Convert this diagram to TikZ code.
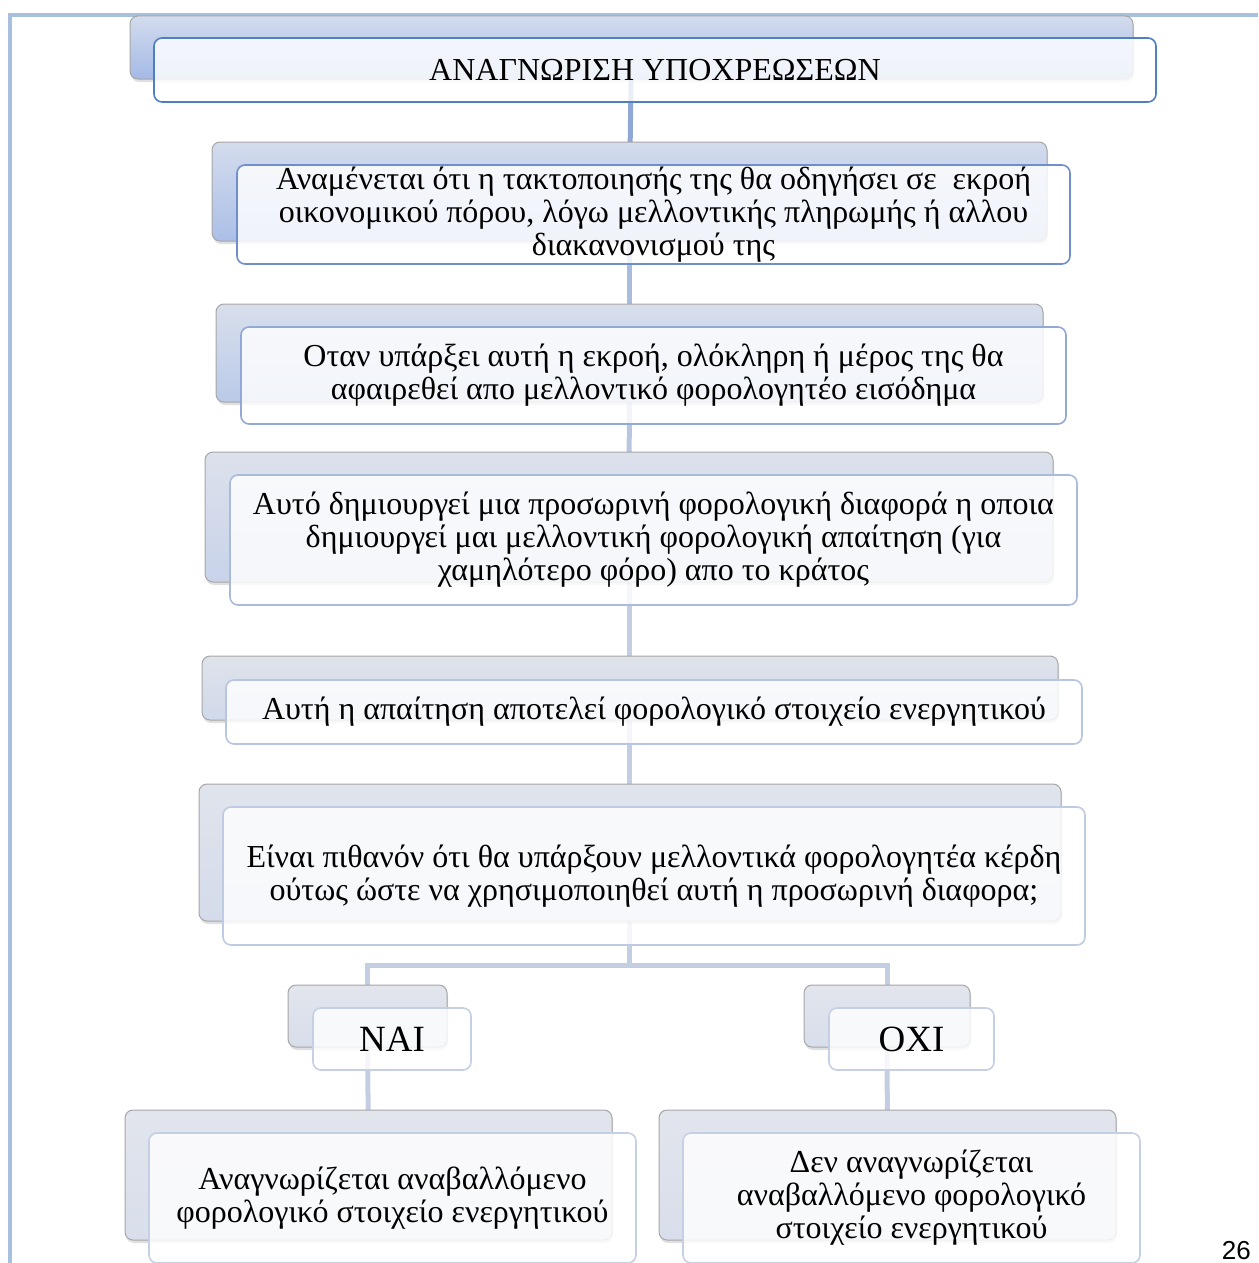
\documentclass[tikz,border=0pt]{standalone}
\usepackage{fontspec}
\setmainfont{Liberation Serif}
\newfontfamily\numfont{Liberation Sans}
\usetikzlibrary{shadows,backgrounds}
\definecolor{framec}{HTML}{A7C0DD}
\definecolor{fa}{HTML}{4F7FC0}
\definecolor{fb}{HTML}{6E8FCC}
\definecolor{fc}{HTML}{92A9D6}
\definecolor{fd}{HTML}{A9BADC}
\definecolor{fe}{HTML}{B7C5E1}
\definecolor{ff}{HTML}{BFCBE3}
\definecolor{fg}{HTML}{C5D0E5}
\definecolor{la}{HTML}{8FA8D6}
\definecolor{lb}{HTML}{A9BCDD}
\definecolor{lc}{HTML}{B8C6E0}
\definecolor{ld}{HTML}{C3CEE2}
\definecolor{bta}{HTML}{D3DCEE}\definecolor{bba}{HTML}{A3B9E6}
\definecolor{btb}{HTML}{D4DCED}\definecolor{bbb}{HTML}{ABBFE7}
\definecolor{btc}{HTML}{D8DFEC}\definecolor{bbc}{HTML}{BACAE8}
\definecolor{btd}{HTML}{DCE1EB}\definecolor{bbd}{HTML}{C8D3EA}
\definecolor{bte}{HTML}{DFE3EB}\definecolor{bbe}{HTML}{D0D9EA}
\definecolor{btf}{HTML}{E0E4EC}\definecolor{bbf}{HTML}{D4DBEA}
\definecolor{btg}{HTML}{E2E5EC}\definecolor{bbg}{HTML}{D8DEEB}
\begin{document}
\begin{tikzpicture}[x=1pt,y=-1pt,
  backbox/.style={rounded corners=8pt, draw=black!35, line width=1pt,
    drop shadow={opacity=0.25, shadow xshift=1pt, shadow yshift=-3pt}},
  frontbox/.style={rounded corners=8pt, fill=white, fill opacity=0.82, text opacity=1,
    line width=1.6pt, align=center, inner sep=0pt,
    font=\fontsize{32}{33}\selectfont},
  bigtxt/.style={font=\fontsize{37}{40}\selectfont},
  conn/.style={line width=5pt},
  frame/.style={draw=framec, line width=4pt}]
\useasboundingbox (0,0) rectangle (1258,1263);
\clip (0,0) rectangle (1258,1263);
\draw[frame] (8,15) -- (1258,15);
\draw[frame] (10,13) -- (10,1263);

\node[backbox, top color=bta, bottom color=bba, minimum width=1003, minimum height=63] (b1) at (631.5,47.5) {};
\node[frontbox, draw=fa, minimum width=1002, minimum height=64] (f1) at (655,70) {ΑΝΑΓΝΩΡΙΣΗ ΥΠΟΧΡΕΩΣΕΩΝ};

\node[backbox, top color=btb, bottom color=bbb, minimum width=835, minimum height=99] (b2) at (629.5,191.5) {};
\node[frontbox, draw=fb, minimum width=833, minimum height=99] (f2) at (653.5,214.5) {Αναμένεται ότι η τακτοποιησής της θα οδηγήσει σε \ εκροή\\οικονομικού πόρου, λόγω μελλοντικής πληρωμής ή αλλου\\διακανονισμού της};

\node[backbox, top color=btc, bottom color=bbc, minimum width=827, minimum height=98] (b3) at (629.5,353) {};
\node[frontbox, draw=fc, minimum width=825, minimum height=97] (f3) at (653.5,375.5) {Οταν υπάρξει αυτή η εκροή, ολόκληρη ή μέρος της θα\\αφαιρεθεί απο μελλοντικό φορολογητέο εισόδημα};

\node[backbox, top color=btd, bottom color=bbd, minimum width=848, minimum height=130] (b4) at (629,517) {};
\node[frontbox, draw=fd, minimum width=847, minimum height=130] (f4) at (653.5,540) {Αυτό δημιουργεί μια προσωρινή φορολογική διαφορά η οποια\\δημιουργεί μαι μελλοντική φορολογική απαίτηση (για\\χαμηλότερο φόρο) απο το κράτος};

\node[backbox, top color=bte, bottom color=bbe, minimum width=856, minimum height=64] (b5) at (630,688) {};
\node[frontbox, draw=fe, minimum width=856, minimum height=64] (f5) at (654,712) {Αυτή η απαίτηση αποτελεί φορολογικό στοιχείο ενεργητικού};

\node[backbox, top color=btf, bottom color=bbf, minimum width=862, minimum height=137] (b6) at (630,852.5) {};
\node[frontbox, draw=ff, minimum width=862, minimum height=138] (f6) at (654,876) {Είναι πιθανόν ότι θα υπάρξουν μελλοντικά φορολογητέα κέρδη\\ούτως ώστε να χρησιμοποιηθεί αυτή η προσωρινή διαφορα;};

\node[backbox, top color=btg, bottom color=bbg, minimum width=159, minimum height=62] (bnai) at (367.5,1016) {};
\node[frontbox, bigtxt, draw=fg, minimum width=158, minimum height=62] (fnai) at (392,1039) {ΝΑΙ};

\node[backbox, top color=btg, bottom color=bbg, minimum width=166, minimum height=62] (boxi) at (887,1016) {};
\node[frontbox, bigtxt, draw=fg, minimum width=165, minimum height=62] (foxi) at (911.5,1039) {ΟΧΙ};

\node[backbox, top color=btg, bottom color=bbg, minimum width=487, minimum height=130] (bl) at (368.5,1175) {};
\node[frontbox, draw=fg, minimum width=487, minimum height=130] (fl) at (392.5,1198) {Αναγνωρίζεται αναβαλλόμενο\\φορολογικό στοιχείο ενεργητικού};

\node[backbox, top color=btg, bottom color=bbg, minimum width=457, minimum height=130] (br) at (887.5,1175) {};
\node[frontbox, draw=fg, minimum width=457, minimum height=130] (fr) at (911.5,1198) {Δεν αναγνωρίζεται\\αναβαλλόμενο φορολογικό\\στοιχείο ενεργητικού};

\coordinate (j) at (630,965);
\node[font=\numfont\fontsize{26}{28}\selectfont, anchor=base east, inner sep=0pt] (pg) at (1251,1259) {26};

\begin{scope}[on background layer]
\draw[conn, draw=la] (b1.center) -- (b2.center);
\draw[conn, draw=lb] (b2.center) -- (b3.center);
\draw[conn, draw=lc] (b3.center) -- (b4.center);
\draw[conn, draw=ld] (b4.center) -- (b4.center |- j);
\draw[conn, draw=ld] (b4.center |- j) -| (bnai.center);
\draw[conn, draw=ld] (b4.center |- j) -| (boxi.center);
\draw[conn, draw=ld] (bnai.center) -- (bl.center);
\draw[conn, draw=ld] (boxi.center) -- (br.center);
\end{scope}
\end{tikzpicture}
\end{document}
